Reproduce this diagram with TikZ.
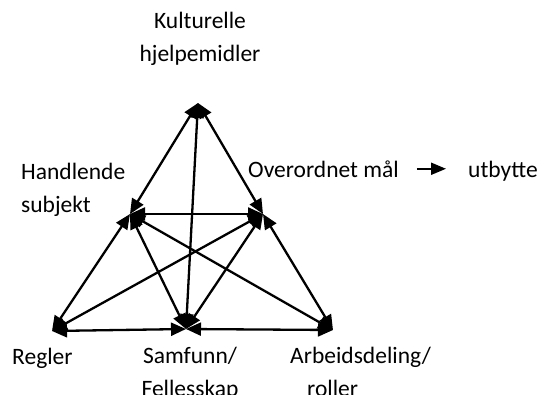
\documentclass[tikz,border=0pt]{standalone}
\usepackage{fontspec}
\setmainfont{Carlito}
\usetikzlibrary{arrows.meta}
\tikzset{
  rel/.style={{Triangle[length=15pt,width=13pt]}-{Triangle[length=15pt,width=13pt]}, line width=2.3pt},
  lbl/.style={inner sep=0pt, font=\fontsize{23.5}{33}\selectfont}
}
\begin{document}
\begin{tikzpicture}[x=1pt, y=-1pt]
  \useasboundingbox (0,0) rectangle (540,394);
  \coordinate (T) at (198,103);
  \coordinate (S) at (130,214);
  \coordinate (O) at (263,214);
  \coordinate (R) at (52,331);
  \coordinate (C) at (186,329);
  \coordinate (D) at (333,330);
  \foreach \a/\b in {T/S, T/O, T/C, S/O, S/R, S/C, S/D, O/R, O/C, O/D, R/C, C/D} {
    \draw[rel] (\a) -- (\b); }
  \node[lbl, anchor=north, align=center] (tool) at (200,12) {Kulturelle\\hjelpemidler};
  \node[lbl, anchor=north west, align=left] (subj) at (21,163) {Handlende\\subjekt};
  \node[lbl, anchor=base west] (obj) at (248,177) {Overordnet mål};
  \node[lbl, anchor=base west] (out) at (468,177) {utbytte};
  \draw[line width=2pt, -{Triangle[length=15pt,width=12pt]}, shorten <=18pt, shorten >=22pt]
    (obj.east) -- (obj.east -| out.west);
  \node[lbl, anchor=base west] (rule) at (12,364) {Regler};
  \node[lbl, anchor=north, align=center] (comm) at (190,347) {Samfunn/\\Fellesskap};
  \node[lbl, anchor=north west, align=left] (div) at (290,347) {Arbeidsdeling/\\\hspace*{17pt}roller};
\end{tikzpicture}
\end{document}
